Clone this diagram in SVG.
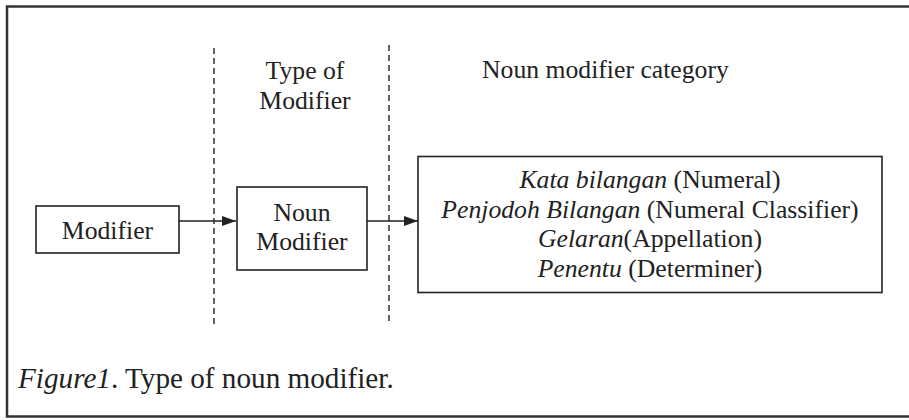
<svg xmlns="http://www.w3.org/2000/svg" width="909" height="420" viewBox="0 0 909 420">
<defs>
<style>
.t{font-family:"Liberation Serif","Times New Roman",serif;font-size:25.7px;fill:#222;}
.cap{font-size:29.2px;}
.i{font-style:italic;}
.box{fill:#fff;stroke:#222;stroke-width:1.6;}
.dash{stroke:#222;stroke-width:1.4;stroke-dasharray:6,4;fill:none;}
.conn{stroke:#222;stroke-width:1.5;fill:none;}
</style>
<marker id="ah" viewBox="0 0 14 10" refX="14" refY="5" markerWidth="14" markerHeight="10" markerUnits="userSpaceOnUse" orient="auto">
<path d="M0,0 L14,5 L0,10 Z" fill="#222"/>
</marker>
</defs>
<rect width="909" height="420" fill="#fff"/>
<path d="M920,6.5 L7,6.5 L7,416.5 L920,416.5" fill="none" stroke="#333" stroke-width="2.5"/>
<g id="dividers">
<line class="dash" x1="214" y1="48" x2="214" y2="325"/>
<line class="dash" x1="389" y1="45" x2="389" y2="325"/>
</g>
<g id="header-type">
<text class="t" x="305" y="79" text-anchor="middle">Type of</text>
<text class="t" x="305" y="108.5" text-anchor="middle">Modifier</text>
</g>
<g id="header-category">
<text class="t" x="482" y="78">Noun modifier category</text>
</g>
<g id="connectors">
<line class="conn" x1="179" y1="221" x2="236" y2="221" marker-end="url(#ah)"/>
<line class="conn" x1="367" y1="221" x2="418" y2="221" marker-end="url(#ah)"/>
</g>
<g id="modifier">
<rect class="box" x="36" y="206" width="143" height="47"/>
<text class="t" x="107.5" y="239" text-anchor="middle">Modifier</text>
</g>
<g id="noun-modifier">
<rect class="box" x="237" y="187" width="130" height="83"/>
<text class="t" x="302" y="220.5" text-anchor="middle">Noun</text>
<text class="t" x="302" y="250" text-anchor="middle">Modifier</text>
</g>
<g id="category">
<rect class="box" x="418" y="156.5" width="464" height="136"/>
<text class="t" x="650" y="188" text-anchor="middle"><tspan class="i">Kata bilangan</tspan> (Numeral)</text>
<text class="t" x="650" y="218" text-anchor="middle"><tspan class="i">Penjodoh Bilangan</tspan> (Numeral Classifier)</text>
<text class="t" x="650" y="247" text-anchor="middle"><tspan class="i">Gelaran</tspan>(Appellation)</text>
<text class="t" x="650" y="277" text-anchor="middle"><tspan class="i">Penentu</tspan> (Determiner)</text>
</g>
<g id="caption">
<text class="t cap" x="18" y="388"><tspan class="i">Figure1</tspan>. Type of noun modifier.</text>
</g>
</svg>
